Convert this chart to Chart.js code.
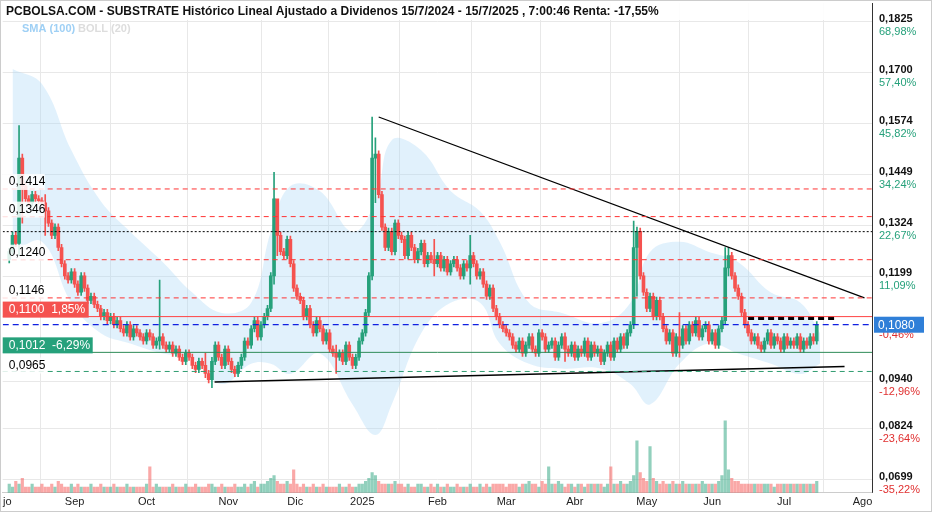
<!DOCTYPE html>
<html><head><meta charset="utf-8">
<script src="https://cdn.jsdelivr.net/npm/chart.js@4"></script>
<style>html,body{margin:0;padding:0;background:#fff}#w{width:932px;height:512px;position:relative}</style>
</head><body><div id="w"><canvas id="c"></canvas></div>
<script>
// prices in units of 0.0001
const closes = [1260,1300,1280,1490,1420,1390,1380,1400,1390,1385,
1380,1360,1330,1300,1320,1270,1230,1200,1190,1210,
1180,1160,1200,1170,1140,1150,1130,1120,1100,1110,
1090,1100,1080,1090,1070,1060,1080,1050,1070,1060,
1050,1040,1060,1050,1030,1040,1050,1030,1020,1030,
1010,1020,1000,990,1010,1000,980,970,990,980,
960,945,990,1030,1000,980,1020,990,970,960,
980,1000,1040,1030,1070,1090,1050,1080,1100,1120,
1200,1390,1300,1260,1250,1290,1230,1170,1150,1140,
1100,1120,1080,1060,1090,1070,1040,1060,1020,1010,
1000,1010,990,1030,1000,980,1000,1040,1060,1110,
1200,1490,1500,1400,1320,1270,1310,1260,1330,1300,
1290,1250,1300,1270,1240,1260,1280,1230,1250,1240,
1230,1250,1220,1240,1210,1230,1240,1220,1200,1230,
1220,1250,1230,1200,1210,1180,1150,1170,1120,1100,
1080,1070,1060,1050,1030,1020,1040,1010,1030,1050,
1020,1010,1060,1050,1020,1030,1040,1000,1030,1050,
1020,1010,1030,1000,1020,1010,1040,1000,1030,1010,
1020,990,1010,1030,1000,1040,1020,1050,1030,1060,
1080,1270,1310,1200,1160,1120,1150,1100,1140,1100,
1070,1040,1060,1010,1050,1030,1070,1040,1080,1060,
1090,1050,1070,1080,1040,1060,1030,1070,1090,1220,
1250,1200,1170,1150,1110,1080,1060,1040,1050,1030,
1020,1040,1060,1030,1050,1040,1020,1050,1030,1040,
1030,1050,1020,1040,1030,1050,1040,1080];
const firstOpen = 1240;
// notable wick extremes: index -> [low, high]
const wicks = {3:[1250,1570],4:[1330,1500],11:[1300,1400],46:[1020,1190],62:[925,1000],60:[950,1010],81:[1180,1455],82:[1250,1350],
 111:[1190,1591],112:[1380,1540],130:[1200,1290],141:[1180,1300],191:[1070,1335],192:[1150,1320],219:[1080,1270],220:[1200,1270],
 205:[1000,1110],170:[990,1060],100:[960,1030]};
const volumes = [3,2,4,3,5,2,2,3,2,2, 3,2,2,3,2,4,3,2,2,3, 2,3,2,2,2,3,2,2,3,2,
 2,2,3,2,2,2,3,2,2,2, 2,2,3,9,2,3,2,2,2,2, 3,2,2,2,3,2,2,3,2,2, 2,3,3,2,2,3,2,2,2,3,
 2,2,3,2,3,4,2,3,3,4, 5,6,4,3,3,4,3,8,3,2, 3,2,2,3,2,2,3,2,2,2, 2,3,2,2,3,2,2,3,3,4,
 5,7,6,4,3,3,3,3,4,3, 3,2,3,2,2,3,3,2,2,3, 2,3,2,2,3,2,2,3,2,2, 2,3,2,2,3,2,3,2,3,3,
 3,3,2,3,3,3,2,3,3,4, 3,3,2,4,3,9,3,3,4,3, 2,3,3,2,3,3,2,3,3,3, 3,3,2,3,9,3,3,4,3,3,
 4,6,18,7,5,4,16,5,4,3, 4,3,3,4,3,3,4,3,3,3, 3,3,4,3,3,3,3,4,6,25, 8,5,4,4,3,3,3,3,3,3,
 3,3,3,3,2,3,3,3,3,3, 3,3,3,3,3,3,3,4];
const bollUpper = [[1,1709],[10,1672],[19,1509],[28,1384],[37,1309],[47,1234],[56,1159],[65,1109],[74,1134],[80,1309],[86,1421],[95,1409],[105,1309],[112,1384],[117,1534],[126,1509],[135,1409],[144,1359],[150,1284],[159,1134],[169,1109],[181,1084],[190,1134],[196,1259],[205,1284],[214,1259],[223,1234],[233,1159],[242,1134],[248,1059]];
const bollLower = [[1,1259],[10,1284],[19,1134],[28,1059],[37,1034],[47,1009],[56,997],[65,934],[74,984],[80,984],[86,959],[95,1009],[105,884],[112,809],[117,884],[126,1059],[135,1134],[144,1134],[150,1034],[159,984],[169,972],[181,972],[190,934],[196,884],[205,984],[214,1034],[223,1009],[233,984],[242,959],[248,984]];
const trendUpper = [[113,1591],[261.6,1146]];
const trendLower = [[62.8,939],[255.5,977]];
const resistDots = [[226,1096],[252.5,1096]];
const redDashed = [1414,1346,1240,1146];
const monthTicks = [-0.6,20,42,67,87.5,108,131,152,173,195,215,237,261];
const monthLabels = ['jo','Sep','Oct','Nov','Dic','2025','Feb','Mar','Abr','May','Jun','Jul','Ago'];
const yTicks = [1825,1700,1574,1449,1324,1199,940,824,699];
const yPct = ['68,98%','57,40%','45,82%','34,24%','22,67%','11,09%','-12,96%','-23,64%','-35,22%'];
const lastPrice = 1080;

const opens = closes.map((c,i)=> i===0?firstOpen:closes[i-1]);
const bodies = closes.map((c,i)=>({x:i,y:[opens[i]/1e4, c/1e4]}));
const wickData = closes.map((c,i)=>{const w=wicks[i]; const lo=Math.min(opens[i],c), hi=Math.max(opens[i],c);
  return {x:i,y:w?[w[0]/1e4,w[1]/1e4]:[(lo-8)/1e4,(hi+8)/1e4]};});
const up = i => closes[i]>=opens[i];
const G='#26a17b', R='#f5524f';
const pts = a => a.map(p=>({x:p[0],y:p[1]/1e4}));
const hline = (v)=>[{x:-2,y:v/1e4},{x:264,y:v/1e4}];
const lineDs = (data,color,dash,width)=>({type:'line',data,borderColor:color,borderDash:dash,borderWidth:width,pointRadius:0,fill:false,yAxisID:'y',order:0});

const datasets = [
  {type:'line',data:pts(bollUpper),borderColor:'rgba(0,0,0,0)',pointRadius:0,fill:'+1',backgroundColor:'rgba(170,215,245,0.35)',tension:0.4,yAxisID:'y',order:5},
  {type:'line',data:pts(bollLower),borderColor:'rgba(0,0,0,0)',pointRadius:0,fill:false,tension:0.4,yAxisID:'y',order:5},
  ...redDashed.map(v=>lineDs(hline(v),'#f33',[5,4],1)),
  lineDs(hline(1309),'#000',[2,2],1),
  lineDs(hline(1100),'#f44',[],1),
  lineDs(hline(1012),'#2e8b57',[],1),
  lineDs(hline(965),'#2e9b6f',[5,4],1),
  lineDs(hline(lastPrice),'#1020e0',[6,4],1.2),
  lineDs(pts(trendUpper),'#000',[],1.2),
  lineDs(pts(trendLower),'#000',[],1.5),
  lineDs(pts(resistDots),'#000',[6,4],3.5),
  {type:'bar',data:wickData,barThickness:1,backgroundColor:wickData.map((d,i)=>up(i)?G:R),yAxisID:'y',grouped:false,order:2},
  {type:'bar',data:bodies,barThickness:3,backgroundColor:bodies.map((d,i)=>up(i)?G:R),yAxisID:'y',grouped:false,order:1,borderSkipped:false},
  {type:'bar',data:volumes.map((v,i)=>({x:i,y:v})),barThickness:2.5,backgroundColor:volumes.map((v,i)=>up(i)?'rgba(38,161,123,0.5)':'rgba(245,82,79,0.5)'),yAxisID:'v',grouped:false,order:3}
];

const F='"Liberation Sans", Arial, sans-serif';
const labelsPlugin = {id:'lbl',afterDraw(ch){
  const c=ch.ctx, y=ch.scales.y, a=ch.chartArea;
  c.save();
  c.strokeStyle='#333';c.lineWidth=1;c.beginPath();c.moveTo(a.right+0.5,a.top);c.lineTo(a.right+0.5,a.bottom);c.stroke();
  c.textBaseline='middle';c.textAlign='left';
  yTicks.forEach((t,k)=>{const py=y.getPixelForValue(t/1e4);
    c.font='bold 11px '+F;c.fillStyle='#111';c.fillText('0,'+String(t).padStart(4,'0'),a.right+7,py-3);
    c.font='11px '+F;c.fillStyle=yPct[k][0]==='-'?'#e03030':'#26a17b';c.fillText(yPct[k],a.right+7,py+10);});
  const lp=y.getPixelForValue(lastPrice/1e4);
  c.fillStyle='#e03030';c.font='11px '+F;c.fillText('-0,46%',a.right+7,lp+10);
  c.fillStyle='#2f7fd8';c.fillRect(a.right+2,lp-8,50,16);
  c.fillStyle='#fff';c.font='12px '+F;c.fillText('0,1080',a.right+6,lp+1);
  const lab=(v,txt,bg,fg,w,dy)=>{const py=y.getPixelForValue(v/1e4)+dy;
    if(bg){c.fillStyle=bg;c.fillRect(a.left,py-8,w,16);}
    c.fillStyle=fg;c.font='12px '+F;c.fillText(txt,a.left+6,py);};
  lab(1414,'0,1414','rgba(255,255,255,0.85)','#000',42,-7);
  lab(1346,'0,1346','rgba(255,255,255,0.85)','#000',42,-7);
  lab(1240,'0,1240','rgba(255,255,255,0.85)','#000',42,-7);
  lab(1146,'0,1146','rgba(255,255,255,0.85)','#000',42,-7);
  lab(1100,'0,1100  1,85%','#f5524f','#fff',86,-7);
  lab(1012,'0,1012  -6,29%','#26a17b','#fff',90,-7);
  lab(965,'0,0965','rgba(255,255,255,0.85)','#000',42,-6);
  c.fillStyle='rgba(255,255,255,0.9)';c.fillRect(0,3,a.right,17);
  c.fillStyle='#111';c.font='bold 12px '+F;
  c.fillText('PCBOLSA.COM - SUBSTRATE Histórico Lineal Ajustado a Dividenos 15/7/2024 - 15/7/2025 , 7:00:46 Renta: -17,55%',6,12);
  c.font='bold 11px '+F;c.fillStyle='#9fd0f5';c.fillText('SMA (100)',22,29);
  c.fillStyle='#ddd';c.fillText('BOLL (20)',78,29);
  c.strokeStyle='#ccc';c.strokeRect(0.5,0.5,931,511);
  c.restore();
}};

new Chart(document.getElementById('c'),{
  data:{datasets},
  options:{responsive:true,maintainAspectRatio:false,animation:false,
    layout:{padding:{top:3,left:0,right:0,bottom:0}},
    plugins:{legend:{display:false},tooltip:{enabled:false}},
    scales:{
      x:{type:'linear',min:-2,max:263.9,offset:false,
        afterBuildTicks:s=>{s.ticks=monthTicks.map(v=>({value:v}));},
        ticks:{autoSkip:false,maxRotation:0,font:{size:11,family:'Liberation Sans'},color:'#222',padding:3,
          callback:(v,i)=>monthLabels[i]},
        grid:{color:'#e8e8e8',drawTicks:false},border:{color:'#ccc'}},
      y:{type:'linear',position:'right',min:0.06665,max:0.18715,
        afterBuildTicks:s=>{s.ticks=yTicks.map(v=>({value:v/1e4}));},
        afterFit:s=>{s.width=60;},
        ticks:{display:false},grid:{color:'#e8e8e8',drawTicks:false},border:{display:false}},
      v:{type:'linear',display:false,min:0,max:170}
    }},
  plugins:[labelsPlugin]
});
</script></body></html>
